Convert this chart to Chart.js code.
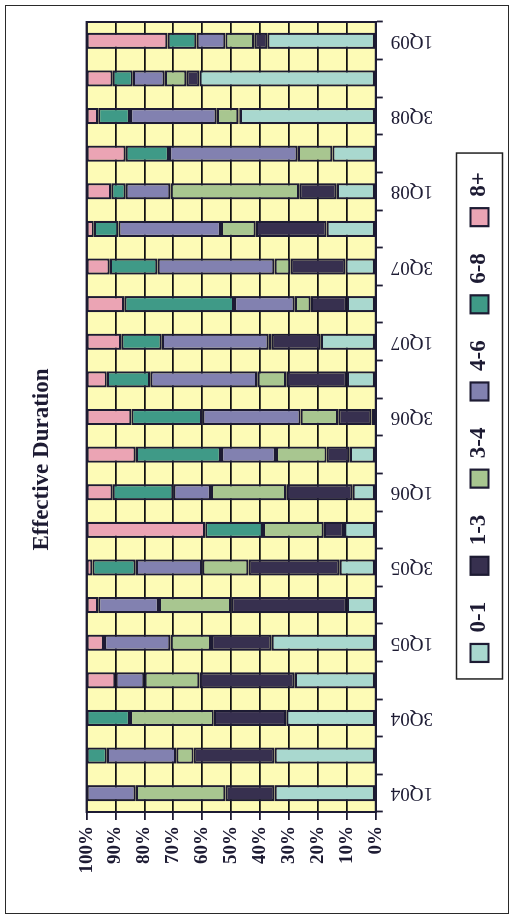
<!DOCTYPE html>
<html>
<head>
<meta charset="utf-8">
<script src="https://cdn.jsdelivr.net/npm/chart.js@4.4.1/dist/chart.umd.min.js"></script>
<style>
  html, body { margin: 0; padding: 0; background: #fff; }
  body { width: 515px; height: 919px; position: relative; overflow: hidden; }
  #frame { position: absolute; left: 5px; top: 5px; width: 502px; height: 907px; border: 1.5px solid #2a2a2a; }
  /* chart is laid out landscape, then turned a quarter turn counter-clockwise */
  #turn { position: absolute; left: 0; top: 0; width: 919px; height: 515px;
          transform-origin: 0 0; transform: translate(0, 919px) rotate(-90deg); }
</style>
</head>
<body>
<div id="frame"></div>
<div id="turn"><canvas id="duration"></canvas></div>
<script>
const quarters = ['1Q04','2Q04','3Q04','4Q04','1Q05','2Q05','3Q05','4Q05','1Q06','2Q06','3Q06',
                  '4Q06','1Q07','2Q07','3Q07','4Q07','1Q08','2Q08','3Q08','4Q08','1Q09'];
const buckets = ['0-1', '1-3', '3-4', '4-6', '6-8', '8+'];

// share of portfolio (%) in each effective duration bucket
const dur0to1  = [35, 35, 31, 28, 36, 10, 12.5, 11, 8, 9, 1.5, 10, 19, 10, 10.5, 17, 13.5, 15, 47, 61, 37.5];
const dur1to3  = [17, 28, 25, 33, 21, 40, 31.5, 7, 23, 8, 11.5, 21, 17, 12.5, 19, 24.5, 13, 0, 0.5, 4.5, 4.5];
const dur3to4  = [31, 6, 29, 19, 14, 25, 16, 21, 26, 17.5, 13, 10, 1, 5.5, 5.5, 12, 44.5, 12, 7.5, 7.5, 10];
const dur4to6  = [17, 24, 0, 10, 23, 21, 23, 0, 13, 19, 34, 37, 37, 21, 40.5, 35.5, 15.5, 44.5, 30, 11, 10];
const dur6to8  = [0, 7, 15, 0, 0, 0, 15, 20, 21, 29.5, 24.5, 15, 14, 38, 16.5, 8.5, 5, 15, 11, 7, 10];
const dur8plus = [0, 0, 0, 10, 6, 4, 2, 41, 9, 17, 15.5, 7, 12, 13, 8, 2.5, 8.5, 13.5, 4, 9, 28];

const series = [dur0to1, dur1to3, dur3to4, dur4to6, dur6to8, dur8plus];
const fills = ['#a9d8cf', '#37304f', '#a8c690', '#8281b0', '#3f9a87', '#eba4b4'];

const ink = '#1d1b33';
const serif = "'Liberation Serif', 'Times New Roman', serif";

const plotArea = {
  id: 'plotArea',
  beforeDraw(chart) {
    const { ctx, chartArea: a } = chart;
    ctx.save();
    ctx.fillStyle = '#fdfbb6';
    ctx.fillRect(a.left, a.top, a.right - a.left, a.bottom - a.top);
    ctx.restore();
  },
  afterDatasetsDraw(chart) {
    const { ctx, chartArea: a } = chart;
    ctx.save();
    ctx.strokeStyle = ink;
    ctx.lineWidth = 2;
    ctx.strokeRect(a.left, a.top, a.right - a.left, a.bottom - a.top);
    ctx.restore();
  }
};

// box around the legend entries
const legendFrame = {
  id: 'legendFrame',
  afterDraw(chart) {
    const boxes = chart.legend.legendHitBoxes;
    if (!boxes || !boxes.length) return;
    const first = boxes[0], last = boxes[boxes.length - 1];
    const left = first.left - 17;
    const right = last.left + last.width + 19;
    const mid = first.top + first.height / 2;
    const ctx = chart.ctx;
    ctx.save();
    ctx.strokeStyle = '#222';
    ctx.lineWidth = 1.5;
    ctx.strokeRect(left, mid - 23, right - left, 46);
    ctx.restore();
  }
};

new Chart(document.getElementById('duration'), {
  type: 'bar',
  data: {
    labels: quarters,
    datasets: buckets.map((b, i) => ({
      label: b,
      data: series[i],
      backgroundColor: fills[i],
      borderColor: ink,
      borderWidth: 2.2,
      borderSkipped: false,
      barPercentage: 0.43,
      categoryPercentage: 1
    }))
  },
  options: {
    responsive: true,
    maintainAspectRatio: false,
    animation: false,
    devicePixelRatio: 1,
    layout: { padding: { left: 22, right: 22, top: 0, bottom: 14 } },
    plugins: {
      title: {
        display: true,
        text: 'Effective Duration',
        color: ink,
        font: { family: serif, size: 23, weight: 'bold' },
        padding: { top: 28, bottom: 31 }
      },
      legend: {
        position: 'bottom',
        fullSize: false,
        labels: {
          color: ink,
          font: { family: serif, size: 23, weight: 'bold' },
          boxWidth: 18,
          boxHeight: 18,
          padding: 27
        }
      },
      tooltip: { enabled: false }
    },
    scales: {
      x: {
        stacked: true,
        grid: { drawOnChartArea: false, tickLength: 7, tickColor: ink, tickWidth: 1.8 },
        border: { color: ink, width: 2 },
        ticks: {
          autoSkip: false,
          minRotation: 90,
          maxRotation: 90,
          padding: 8,
          color: ink,
          font: { family: serif, size: 19 },
          callback: (v, i) => (i % 2 === 0 ? quarters[i] : '')
        }
      },
      y: {
        stacked: true,
        min: 0,
        max: 100,
        afterFit: (s) => { s.width = 85; },
        grid: { color: '#111111', lineWidth: 1.8, tickLength: 8, tickColor: ink, tickWidth: 1.8 },
        border: { color: ink, width: 2 },
        ticks: {
          stepSize: 10,
          padding: 6,
          color: ink,
          font: { family: serif, size: 19, weight: 'bold' },
          callback: (v) => v + '%'
        }
      }
    }
  },
  plugins: [plotArea, legendFrame]
});
</script>
</body>
</html>
